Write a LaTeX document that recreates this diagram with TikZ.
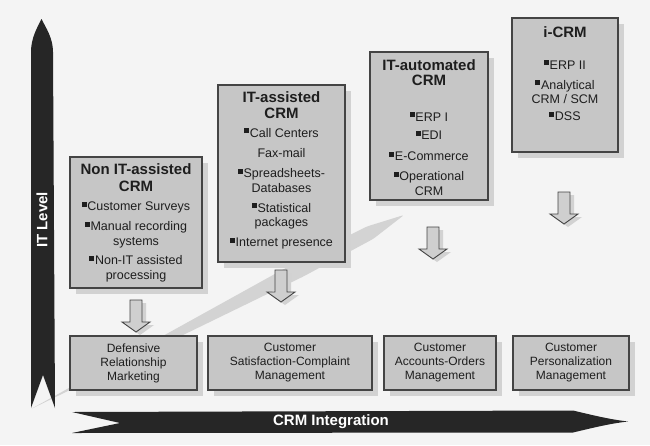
\documentclass[tikz,border=0pt]{standalone}
\usepackage{fontspec}
\setmainfont{Liberation Sans}
\usetikzlibrary{shadows}

\definecolor{bg}{HTML}{F4F4F4}
\definecolor{boxfill}{HTML}{C6C6C6}
\definecolor{boxline}{HTML}{444444}
\definecolor{shade}{HTML}{D2D2D2}
\definecolor{ink}{HTML}{1E1E1E}
\definecolor{axis}{HTML}{262626}
\definecolor{trend}{HTML}{D3D3D3}
\definecolor{hollowfill}{HTML}{CFCFCF}

% bullet square and title lines
\newcommand{\bul}{\rule[4pt]{5pt}{5pt}\hspace{0.6pt}}
\newcommand{\ttl}[1]{{\fontsize{15}{17}\selectfont\bfseries #1}}

\tikzset{
  card/.style={draw=boxline, line width=1.1pt, fill=boxfill, inner sep=0pt,
    drop shadow={opacity=1, fill=shade, shadow xshift=6pt, shadow yshift=-6pt}},
  boxtxt/.style={align=center, text=ink, inner sep=0pt, anchor=north,
    font=\fontsize{12.5}{14.5}\selectfont},
  stagetxt/.style={align=center, text=ink, font=\fontsize{12}{14}\selectfont},
  axistxt/.style={text=white, font=\fontsize{15}{17}\selectfont\bfseries, inner sep=0pt},
  hollow/.style={draw=boxline, line width=0.9pt, fill=hollowfill, line join=miter,
    drop shadow={opacity=1, fill=shade, shadow xshift=4pt, shadow yshift=-3pt}},
  downarr/.pic={
    \path[hollow] (-6,0) -- (6,0) -- (6,22) -- (14,22) -- (0,32) -- (-14,22) -- (-6,22) -- cycle;
  }
}

\begin{document}
\begin{tikzpicture}[x=1pt, y=-1pt]
  % canvas
  \fill[bg] (0,0) rectangle (650,445);
  \useasboundingbox (0,0) rectangle (650,445);

  % rising trend band behind the stages
  \fill[trend, rounded corners=2pt] (31,409) -- (296.3,262.1) -- (366.8,226.5) -- (404,215)
    -- (373.2,238.9) -- (303.7,276.3) -- cycle;

  % vertical axis arrow
  \fill[axis] (31,408) -- (31,52) .. controls (31,38) and (37,28) .. (41.5,19)
    .. controls (46,28) and (53,38) .. (53,52) -- (55,408) -- (43,375) -- cycle;
  \node[axistxt, rotate=90] (itlevel) at (42,220) {IT Level};

  % horizontal axis arrow
  \fill[axis] (72,412) -- (573,410.5) .. controls (592,415) and (610,419.5) .. (628,421.5)
    .. controls (610,423.5) and (592,428) .. (573,432.5) -- (72,433) -- (120,423) -- cycle;
  \node[axistxt] (crmint) at (331,422) {CRM Integration};

  % stage boxes
  \node[card, minimum width=132pt, minimum height=131pt] (b1) at (136,222.5) {};
  \node[card, minimum width=127pt, minimum height=177pt] (b2) at (281.5,173.5) {};
  \node[card, minimum width=118pt, minimum height=148pt] (b3) at (429,126) {};
  \node[card, minimum width=106pt, minimum height=134pt] (b4) at (565,85) {};

  \node[boxtxt] (t1) at ([yshift=-7.4pt]b1.north) {%
    \ttl{Non IT-assisted}\\[2.5pt]
    \ttl{CRM}\\[4.5pt]
    \bul Customer Surveys\\[5.5pt]
    \bul Manual recording\\
    systems\\[5pt]
    \bul Non-IT assisted\\
    processing};

  \node[boxtxt] (t2) at ([yshift=-6.5pt]b2.north) {%
    \ttl{IT-assisted}\\[1.5pt]
    \ttl{CRM}\\[4.5pt]
    \bul Call Centers\\[5.5pt]
    Fax-mail\\[6pt]
    \bul Spreadsheets-\\
    Databases\\[5.5pt]
    \bul Statistical\\
    packages\\[5.5pt]
    \bul Internet presence};

  \node[boxtxt] (t3) at ([yshift=-7.5pt]b3.north) {%
    \ttl{IT-automated}\\[0.5pt]
    \ttl{CRM}\\[21.5pt]
    \bul ERP I\\[4pt]
    \bul EDI\\[6.5pt]
    \bul E-Commerce\\[5.5pt]
    \bul Operational\\
    CRM};

  \node[boxtxt] (t4) at ([yshift=-8.5pt]b4.north) {%
    \ttl{i-CRM}\\[17.5pt]
    \bul ERP II\\[5.5pt]
    \bul Analytical\\
    CRM / SCM\\[2.5pt]
    \bul DSS};

  % transition arrows
  \coordinate (a1) at (136,300);
  \coordinate (a2) at (281,270);
  \coordinate (a3) at (433,227);
  \coordinate (a4) at (564,192);
  \foreach \a in {a1,a2,a3,a4} \pic at (\a) {downarr};

  % relationship marketing outcomes
  \node[card, stagetxt, minimum width=127pt, minimum height=54pt] (c1) at (133.5,363) {Defensive\\Relationship\\Marketing};
  \node[card, stagetxt, minimum width=164pt, minimum height=54pt] (c2) at (290,363) {Customer\\Satisfaction-Complaint\\Management};
  \node[card, stagetxt, minimum width=112pt, minimum height=54pt] (c3) at (440,363) {Customer\\Accounts-Orders\\Management};
  \node[card, stagetxt, minimum width=116pt, minimum height=54pt] (c4) at (571,363) {Customer\\Personalization\\Management};
\end{tikzpicture}
\end{document}
